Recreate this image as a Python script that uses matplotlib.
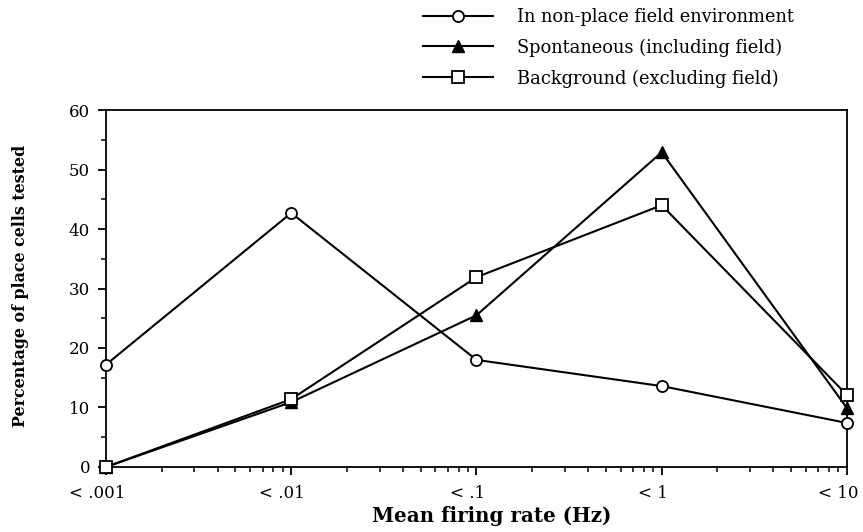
import matplotlib
matplotlib.use("Agg")
import matplotlib.pyplot as plt
from matplotlib.font_manager import FontProperties
from matplotlib.textpath import TextPath
from matplotlib.transforms import ScaledTranslation
from matplotlib.ticker import LogLocator, MultipleLocator, NullFormatter

plt.rcParams["font.family"] = ["DejaVu Serif"]

rates = [0.001, 0.01, 0.1, 1, 10]
rate_labels = ["< .001", "< .01", "< .1", "< 1", "< 10"]
non_place = [17.2, 42.7, 18.0, 13.6, 7.4]
spontaneous = [0.0, 10.9, 25.5, 52.9, 9.9]
background = [0.0, 11.4, 31.9, 44.0, 12.1]

DPI = 100


def fit_size(text, width_px, weight="normal"):
    # font size (pt) whose ink width is width_px at DPI
    fp = FontProperties(family="DejaVu Serif", weight=weight, size=10)
    w = TextPath((0, 0), text, prop=fp).get_extents().width
    return 10 * width_px / (w * DPI / 72)


tick_fs = 12
legend_fs = fit_size("In non-place field environment", 278)
xlabel_fs = fit_size("Mean firing rate (Hz)", 236, "bold")
ylabel_fs = fit_size("Percentage of place cells tested", 282, "bold")

fig = plt.figure(figsize=(8.63, 5.32), dpi=DPI)
ax = fig.add_axes([0.1228, 0.1222, 0.8586, 0.671])

common = dict(color="black", lw=1.5, ms=8, mec="black", clip_on=False)
ax.plot(rates, non_place, marker="o", mfc="white", mew=1.3,
        label="In non-place field environment", zorder=3, **common)
ax.plot(rates, spontaneous, marker="^", mfc="black",
        label="Spontaneous (including field)", zorder=3, **common)
ax.plot(rates, background, marker="s", mfc="white", mew=1.3,
        label="Background (excluding field)", zorder=4, **common)

ax.set_xscale("log")
ax.set_xlim(0.001, 10)
ax.set_ylim(0, 60)
ax.set_xticks(rates)
ax.set_xticklabels(rate_labels)
ax.xaxis.set_minor_locator(LogLocator(base=10, subs=range(2, 10)))
ax.xaxis.set_minor_formatter(NullFormatter())
ax.yaxis.set_major_locator(MultipleLocator(10))
ax.yaxis.set_minor_locator(MultipleLocator(5))

for s in ax.spines.values():
    s.set_linewidth(1.3)
ax.tick_params(which="major", direction="out", length=6, width=1.3, labelsize=tick_fs)
ax.tick_params(axis="y", which="major", pad=5.5)
ax.tick_params(axis="x", which="major", pad=7)
ax.tick_params(which="minor", direction="out", length=3.5, width=1.1)

# x tick labels in the original sit a little left of their ticks
shift = ScaledTranslation(-9 / DPI, 0, fig.dpi_scale_trans)
for lab in ax.get_xticklabels():
    lab.set_transform(lab.get_transform() + shift)

ax.set_xlabel("Mean firing rate (Hz)", fontsize=xlabel_fs, fontweight="bold")
ax.xaxis.label.set_va("center")
ax.xaxis.set_label_coords(0.52, -0.138)
ax.set_ylabel("Percentage of place cells tested", fontsize=ylabel_fs, fontweight="bold")
ax.yaxis.label.set_va("center")
ax.yaxis.set_label_coords(-0.116, 0.507)

legend_px = legend_fs * DPI / 72
fig.legend(loc="upper left", bbox_to_anchor=(423 / 863, 0.985), frameon=False,
           fontsize=legend_fs, handlelength=70 / legend_px,
           handletextpad=24 / legend_px, labelspacing=0.7,
           borderaxespad=0, borderpad=0, numpoints=1)

fig.savefig("out.png", dpi=DPI)
